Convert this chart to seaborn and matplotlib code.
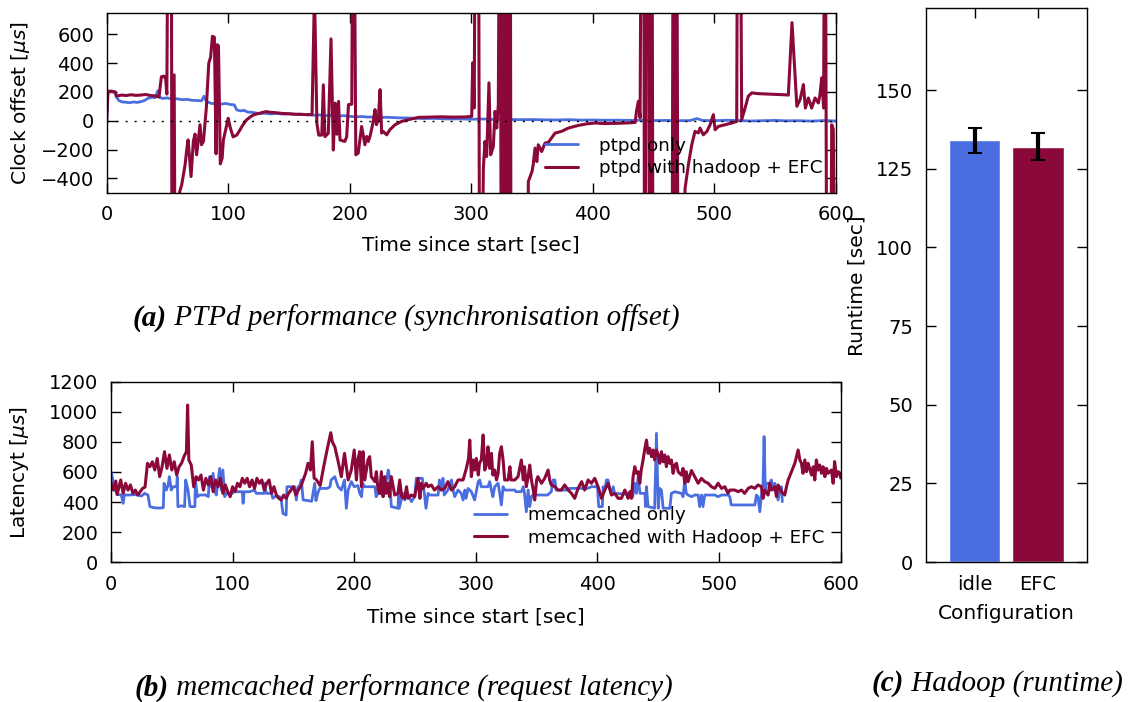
import matplotlib
matplotlib.use("Agg")
import matplotlib.pyplot as plt
import seaborn as sns

# (a) PTPd clock offset [us] over time [sec]; values beyond the axis are off-scale spikes
t_ptpd = [0, 1, 3, 5, 7, 8,
          10, 13, 16, 19, 22, 25, 28, 31, 34, 37, 40,
          42, 43.5, 46, 50, 54, 58, 62, 66, 70, 74, 78,
          80, 82, 86, 90, 94, 98, 102, 105, 107, 110, 113, 116, 120,
          125, 130, 135, 140, 145, 150, 155, 160, 165, 170,
          175, 180, 185, 190, 195, 200, 205, 210, 215, 220, 225, 230,
          240, 250, 260, 270, 280, 290, 300,
          310, 320, 330, 340, 350, 360, 370, 380, 390, 400, 410, 420, 430, 440, 450, 460, 470, 480,
          486, 490,
          500, 510, 520, 530, 540, 550, 560, 570, 580, 590, 600]
off_ptpd = [0, 195, 205, 200, 198, 165,
            140, 130, 128, 125, 130, 127, 132, 140, 155, 162, 160,
            208, 162, 155, 158, 150, 152, 146, 148, 142, 140, 138,
            170, 135, 120, 118, 115, 120, 112, 110, 75, 68, 72, 60, 58,
            50, 52, 47, 50, 46, 48, 44, 45, 42, 38,
            40, 35, 37, 33, 35, 30, 27, 29, 25, 26, 22, 24,
            20, 18, 15, 16, 12, 13, 10,
            12, 8, 9, 7, 8, 6, 5, 7, 4, 5, 3, 4, 2, 3, 1, 2, 0, 1,
            15, 2,
            0, 3, 1, -2, 0, 2, -1, 0, -3, 1, -2]

t_hadoop = [0, 1, 4, 7, 8, 12, 16, 20, 24, 28,
            32, 36, 40, 43, 45, 47, 48.5, 49.5, 51, 53,
            54, 55.5, 57, 59, 60, 61.7, 64.5, 66, 67, 69.4,
            71.3, 72.7, 74, 76.8, 78, 79.6, 81, 82, 84, 85.5,
            87, 88.6, 90, 91, 92, 93.5, 95, 96, 98, 100,
            101.5, 104, 107, 109.6, 112, 115, 118, 120.7, 125, 131,
            135, 140, 145, 150, 155, 160, 165, 169, 171, 173,
            174.5, 177, 178.3, 179.6, 182.4, 184.6, 186.5, 188, 189.4, 190.8,
            192, 196, 197.5, 199, 201.7, 203, 205, 207, 209.8, 211,
            212.5, 214, 215.3, 216.7, 219.4, 220.8, 222, 223.5, 225, 226.3,
            227.6, 230.4, 233, 237.3, 242.7, 248.2, 256.5, 265, 275, 285,
            295, 300.4, 301.2, 302.5, 303.6, 305.8, 307.2, 310, 311.3, 312.7,
            314.6, 316, 318.2, 319.6, 321, 322.3, 323.7, 325, 326.4, 327.8,
            329.7, 331, 332, 333, 345.6, 347, 350, 351, 352.5, 354,
            355.2, 358, 360.7, 363.5, 369, 374.4, 380, 388, 395, 402,
            410, 420, 430, 435, 436, 437.6, 439, 440.3, 441.7, 443,
            444.5, 446, 447, 448.5, 450, 465, 466.4, 467.5, 469, 470.5,
            473, 476, 478.7, 481.5, 484.2, 487, 488.3, 491, 494, 496.6,
            499.3, 500.7, 503.4, 509, 514.4, 518.5, 519.5, 521, 522.6, 525.4,
            528, 530.9, 536, 545, 552, 558, 561, 564, 568, 570.7,
            573.4, 575, 577.5, 580.2, 583, 585.7, 587, 588.5, 590, 591.2,
            593, 595, 596.7, 598, 600]
off_hadoop = [0, 205, 205, 200, 170, 178, 175, 180, 176, 178,
              182, 175, 172, 165, 305, 310, 290, 185, 2500, 2500,
              -2500, 318, -2500, -2500, -495, -446, -307, -190, -133, -388,
              -144, -93, -237, -28, -167, -144, -5, 90, 400, 440,
              586, 580, -230, 528, 519, -300, -260, -135, -60, 17,
              -42, -112, -100, -65, -30, 5, 25, 40, 50, 63,
              58, 55, 50, 48, 45, 44, 42, 43, 900, -20,
              -100, -100, 249, -111, -87, 568, -204, 122, -94, 134,
              -134, -144, -111, 112, 115, 2500, -237, -225, -40, -98,
              -167, -109, -144, -109, -5, 77, -28, 7, 216, -86,
              -75, -98, -63, -28, -5, 7, 23, 25, 27, 25,
              26, 30, 402, 88, 2500, 2500, -2500, -330, -144, -249,
              263, -237, -179, 65, -51, 112, 2500, -2500, 2500, -2500,
              2500, -2500, 2500, -2500, -2500, -423, -353, -307, -190, -284,
              -167, -214, -156, -150, -86, -74, -51, -33, -22, -16,
              -20, -18, -15, -12, 65, 135, 20, 2500, 2500, -2500,
              2500, 2500, -2500, 2500, -2500, -2500, 2500, -2500, 2500, -2500,
              -2500, -470, -307, -167, -74, -85, -51, -98, -74, -28,
              42, -63, -40, -28, -16, -5, 2500, 2500, 7, 88,
              170, 193, 188, 185, 183, 180, 178, 681, 100, 147,
              251, 88, 158, 88, 158, 123, 180, 298, 88, 2500,
              -2500, -2500, -28, -60, -2500]

# (b) memcached request latency [us] over time [sec]
t_mc = [0, 1, 2, 4, 6, 8.5, 10, 11, 15, 20,
        25, 27.7, 30.4, 32, 35, 40, 43, 43.6, 45.5, 47,
        48, 49.6, 51, 54, 54.5, 55, 58, 60.5, 61.4, 63.3,
        65, 69, 69.4, 71, 73, 78, 80, 81, 82.5, 84,
        85, 86.6, 89.4, 90.7, 92, 93.5, 95, 100, 101.7, 104,
        108, 108.6, 109.5, 114, 118, 119.5, 126, 126.4, 127.7, 132,
        133, 134.6, 138.7, 140, 141.4, 144, 144.7, 151, 152.4, 153.8,
        155, 156.5, 158, 162, 165, 167.5, 168.5, 170, 171.6, 178,
        180, 181, 184, 186.7, 189.4, 192, 193.5, 195, 197.6, 200,
        203, 204.5, 206, 207, 208.7, 217, 218, 219.6, 225, 226.4,
        228, 229, 230.5, 236, 236.5, 237, 240, 241.5, 244, 247,
        249.7, 251, 256, 258, 259, 260.7, 262, 269, 270, 271.6,
        273, 274, 277, 280, 281.3, 282.6, 285.4, 288, 289.5, 291,
        292, 293.6, 296.3, 299, 302, 303.2, 304.5, 310, 311.4, 312.8,
        314, 315.5, 318.3, 319.6, 321, 322.4, 323.7, 332, 333, 337.4,
        339, 340, 341.5, 343, 344.3, 345.7, 347, 359, 362, 363.5,
        365, 366, 376, 377, 392, 395, 400, 401, 404, 404.6,
        406, 407.4, 408.7, 410, 411.5, 413, 414, 428, 429, 430.7,
        432, 433.4, 435, 439, 439.5, 440.3, 441.6, 447, 448.5, 450,
        451, 452.6, 454, 459.5, 460.8, 463.6, 469, 470.4, 471.8, 473,
        474.5, 477.3, 480, 482.8, 484, 485.5, 486.8, 488.2, 496.5, 499.2,
        502, 507.4, 508.8, 510, 529.4, 530.7, 532, 533.5, 534.8, 536.2,
        537, 538, 539, 541.7, 543, 544.4, 545.8, 547.2, 548.5, 550,
        551.3, 552]
lat_mc = [600, 570, 525, 469, 450, 447, 392, 447, 447, 450,
          440, 458, 447, 370, 363, 360, 363, 525, 480, 514,
          569, 480, 502, 502, 569, 370, 375, 370, 547, 480,
          370, 370, 547, 436, 447, 447, 436, 569, 502, 591,
          480, 447, 624, 480, 613, 436, 458, 458, 480, 469,
          469, 392, 469, 469, 480, 458, 458, 525, 458, 458,
          425, 436, 436, 414, 325, 314, 502, 502, 414, 502,
          502, 547, 414, 410, 405, 525, 410, 458, 491, 491,
          502, 547, 569, 502, 480, 547, 359, 480, 536, 502,
          510, 458, 436, 525, 502, 502, 436, 458, 458, 547,
          613, 569, 370, 359, 491, 359, 458, 414, 458, 403,
          436, 558, 558, 436, 359, 458, 447, 447, 547, 480,
          558, 447, 480, 547, 480, 436, 480, 458, 414, 480,
          425, 491, 469, 414, 536, 547, 502, 502, 536, 480,
          436, 502, 525, 458, 381, 502, 480, 480, 469, 469,
          502, 458, 336, 480, 370, 436, 447, 447, 469, 547,
          547, 480, 480, 491, 491, 502, 502, 370, 370, 502,
          480, 547, 547, 491, 469, 502, 458, 450, 436, 525,
          458, 569, 458, 458, 370, 502, 370, 359, 857, 359,
          491, 480, 359, 359, 458, 469, 458, 436, 547, 458,
          447, 436, 447, 447, 370, 447, 370, 447, 447, 436,
          447, 447, 436, 381, 381, 447, 436, 336, 447, 536,
          835, 480, 525, 525, 547, 480, 525, 480, 414, 480,
          502, 403]

t_mc_hadoop = [0, 2, 4, 5, 8, 10, 12, 14, 16, 18,
               20, 22, 24, 26, 28, 30, 32, 34, 36, 38,
               40, 42, 44, 46, 48, 50, 52, 54, 56, 58,
               60, 62, 63, 64, 66, 68, 70, 72, 74, 76,
               78, 80, 82, 84, 86, 88, 90, 92, 94, 96,
               98, 100, 102, 104, 106, 108, 110, 112, 114, 116,
               118, 120, 122, 124, 126, 128, 130, 132, 134, 136,
               138, 140, 142, 144, 146, 148, 150, 152, 154, 156,
               158, 160, 162, 164, 165.5, 167, 169, 172, 175, 178,
               180.7, 182, 184, 186.5, 189.4, 192, 195, 197.6, 200, 201.8,
               203, 204.5, 206, 207.2, 208.6, 210, 211.3, 212.7, 214, 217,
               218.2, 219.6, 221, 222.3, 223.7, 225, 226.4, 227.8, 229, 230.5,
               233.3, 236, 237.4, 239, 241.5, 243, 244.2, 247, 249.7, 252.5,
               254, 255.2, 256.6, 259.3, 260.7, 263.4, 266, 269, 271.7, 274.4,
               277, 280, 282.6, 285.4, 289.5, 292.2, 294, 295, 296.3, 297.7,
               299, 300.4, 302, 303, 304.5, 306, 307.3, 308.7, 310, 311.4,
               312.8, 314, 315.5, 317, 318.3, 319.6, 321, 322.4, 323.7, 326.5,
               328, 329, 332, 334.7, 337.4, 339, 340, 341.5, 343, 344.3,
               345.7, 347, 348.4, 350, 351, 354, 356.6, 359.4, 360.7, 362,
               365, 367.6, 370.3, 373, 376, 378.6, 381.3, 384, 387, 389.5,
               392.3, 395, 397.8, 400.5, 403.3, 406, 408.7, 411.5, 414.2, 417,
               419.7, 422.5, 423.8, 425.2, 426.6, 428, 429.3, 430.7, 432, 433.4,
               434.8, 436, 437.5, 439, 440.3, 441.6, 443, 444.4, 445.8, 447,
               448.5, 450, 451.2, 452.6, 454, 455.3, 456.7, 458, 459.5, 460.8,
               462.2, 463.6, 465, 466.3, 469, 470.4, 471.8, 473, 474.5, 477.3,
               480, 482.8, 485.5, 488.2, 491, 493.7, 496.5, 499.2, 502, 504.7,
               507.4, 508.8, 510, 512.9, 515.7, 518.4, 521, 523.9, 526.6, 529.4,
               532, 534.8, 536.2, 537.6, 540.3, 541.7, 543, 545.8, 547.2, 548.5,
               551.3, 554, 555.4, 556.8, 559.5, 562.3, 565, 566.4, 567.7, 569,
               570.5, 571.9, 573.2, 576, 577.4, 578.7, 580, 581.4, 582.8, 584.2,
               585.6, 587, 588.3, 589.7, 592.4, 593.8, 595, 596.5, 597.9, 599.3, 600]
lat_mc_hadoop = [525, 480, 540, 450, 547, 458, 525, 480, 514, 458,
                 480, 447, 469, 491, 500, 658, 635, 668, 613, 690,
                 569, 635, 735, 624, 713, 613, 668, 580, 635, 658,
                 702, 735, 1045, 680, 646, 502, 569, 547, 580, 480,
                 558, 514, 569, 469, 547, 502, 558, 458, 514, 469,
                 436, 502, 469, 525, 502, 558, 525, 558, 502, 547,
                 491, 558, 525, 547, 480, 525, 547, 458, 502, 447,
                 425, 414, 447, 425, 458, 480, 502, 447, 480, 502,
                 547, 591, 658, 613, 801, 560, 547, 510, 640, 760,
                 861, 800, 768, 680, 569, 724, 547, 613, 746, 547,
                 680, 735, 502, 735, 547, 613, 680, 702, 569, 536,
                 602, 480, 458, 602, 436, 569, 458, 525, 436, 569,
                 447, 458, 547, 436, 425, 502, 425, 447, 436, 558,
                 425, 525, 491, 525, 502, 514, 480, 502, 480, 491,
                 536, 480, 502, 547, 547, 624, 690, 812, 569, 680,
                 613, 690, 580, 658, 680, 846, 613, 646, 768, 624,
                 724, 580, 613, 547, 591, 724, 768, 680, 547, 547,
                 635, 547, 547, 569, 680, 547, 635, 502, 569, 646,
                 547, 491, 414, 547, 569, 525, 558, 613, 547, 514,
                 502, 480, 480, 514, 480, 458, 425, 491, 536, 480,
                 547, 525, 558, 502, 425, 480, 525, 447, 458, 425,
                 425, 480, 458, 425, 469, 425, 569, 635, 591, 602,
                 525, 613, 680, 757, 812, 724, 757, 702, 746, 680,
                 746, 713, 658, 735, 668, 713, 635, 702, 658, 680,
                 591, 646, 658, 602, 580, 624, 525, 602, 536, 610,
                 569, 525, 558, 536, 525, 502, 491, 525, 491, 502,
                 458, 480, 480, 480, 469, 480, 458, 491, 502, 491,
                 514, 502, 425, 480, 447, 525, 480, 502, 436, 514,
                 469, 447, 502, 547, 602, 658, 746, 680, 658, 591,
                 680, 602, 658, 580, 635, 547, 680, 613, 646, 591,
                 635, 569, 624, 591, 613, 525, 669, 569, 602, 591, 560]

# (c) Hadoop runtime [sec]
configs = ["idle", "EFC"]
runtime = [134, 132]
runtime_err = [4, 4.3]

BLUE = "#4a6ee0"
RED = "#8b083a"

sns.set_style("ticks")
plt.rcParams["font.family"] = ["DejaVu Sans"]
plt.rcParams["mathtext.fontset"] = "dejavusans"
plt.rcParams["text.color"] = "black"
plt.rcParams["axes.labelcolor"] = "black"

fig = plt.figure(figsize=(11.28, 7.02), dpi=100)
ax_a = fig.add_axes([0.0946, 0.7255, 0.6463, 0.2564])
ax_b = fig.add_axes([0.0984, 0.199, 0.6469, 0.2573])
ax_c = fig.add_axes([0.8207, 0.1994, 0.1427, 0.7887])

TICK_FS = 14
LABEL_FS = 14.5
LEGEND_FS = 13.2


def frame(ax):
    ax.tick_params(direction="in", top=True, right=True, length=7, width=1,
                   color="black", labelcolor="black", labelsize=TICK_FS, pad=9)
    for s in ax.spines.values():
        s.set_color("black")
        s.set_linewidth(1)


# panel a
sns.lineplot(x=t_ptpd, y=off_ptpd, ax=ax_a, color=BLUE, lw=2.0,
             label="ptpd only", estimator=None, sort=False)
sns.lineplot(x=t_hadoop, y=off_hadoop, ax=ax_a, color=RED, lw=2.2,
             label="ptpd with hadoop + EFC", estimator=None, sort=False)
ax_a.axhline(0, color="black", lw=1, ls=(0, (1.5, 5)), zorder=3)
ax_a.set_xlim(0, 600)
ax_a.set_ylim(-500, 750)
ax_a.set_xticks(range(0, 601, 100))
ax_a.set_yticks(range(-400, 601, 200))
ax_a.set_xlabel("Time since start [sec]", fontsize=LABEL_FS)
ax_a.set_ylabel(r"Clock offset [$\mu s$]", fontsize=LABEL_FS)
ax_a.xaxis.set_label_coords(0.5, -0.24)
ax_a.yaxis.set_label_coords(-0.103, 0.5)
ax_a.legend(loc="upper left", bbox_to_anchor=(0.601, 0.31), frameon=False,
            fontsize=LEGEND_FS, handlelength=1.8, handletextpad=1.15,
            labelspacing=0.25, borderpad=0, borderaxespad=0)
frame(ax_a)

# panel b
sns.lineplot(x=t_mc, y=lat_mc, ax=ax_b, color=BLUE, lw=2.0,
             label="memcached only", estimator=None, sort=False)
sns.lineplot(x=t_mc_hadoop, y=lat_mc_hadoop, ax=ax_b, color=RED, lw=2.2,
             label="memcached with Hadoop + EFC", estimator=None, sort=False)
ax_b.set_xlim(0, 600)
ax_b.set_ylim(0, 1200)
ax_b.set_xticks(range(0, 601, 100))
ax_b.set_yticks(range(0, 1201, 200))
ax_b.set_xlabel("Time since start [sec]", fontsize=LABEL_FS)
ax_b.set_ylabel(r"Latencyt [$\mu s$]", fontsize=LABEL_FS)
ax_b.xaxis.set_label_coords(0.5, -0.248)
ax_b.yaxis.set_label_coords(-0.109, 0.5)
ax_b.legend(loc="upper left", bbox_to_anchor=(0.4975, 0.31), frameon=False,
            fontsize=LEGEND_FS, handlelength=1.8, handletextpad=1.15,
            labelspacing=0.25, borderpad=0, borderaxespad=0)
frame(ax_b)

# panel c
sns.barplot(x=configs, y=runtime, hue=configs, palette=[BLUE, RED],
            saturation=1, width=0.81, legend=False, ax=ax_c)
ax_c.errorbar(x=list(range(len(configs))), y=runtime, yerr=runtime_err,
              fmt="none", ecolor="black", elinewidth=3, capsize=5, capthick=1.5)
ax_c.set_xlim(-0.77, 1.77)
ax_c.set_ylim(0, 176)
ax_c.set_yticks(range(0, 151, 25))
ax_c.set_xlabel("Configuration", fontsize=LABEL_FS)
ax_c.set_ylabel("Runtime [sec]", fontsize=LABEL_FS)
ax_c.xaxis.set_label_coords(0.5, -0.075)
ax_c.yaxis.set_label_coords(-0.37, 0.5)
frame(ax_c)


def caption(ax, x_px, y_px, tag, text):
    t1 = fig.text(x_px / 1128, 1 - y_px / 702, tag, family="Liberation Serif",
                  style="italic", weight="bold", fontsize=21, ha="left", va="bottom")
    ax.annotate(text, xy=(1, 0), xycoords=t1, ha="left", va="bottom",
                family="Liberation Serif", style="italic", fontsize=21,
                annotation_clip=False)


caption(ax_a, 133, 332, "(a)", " PTPd performance (synchronisation offset)")
caption(ax_b, 135, 702, "(b)", " memcached performance (request latency)")
caption(ax_c, 872, 697, "(c)", " Hadoop (runtime)")

fig.savefig("out.png", dpi=100)
